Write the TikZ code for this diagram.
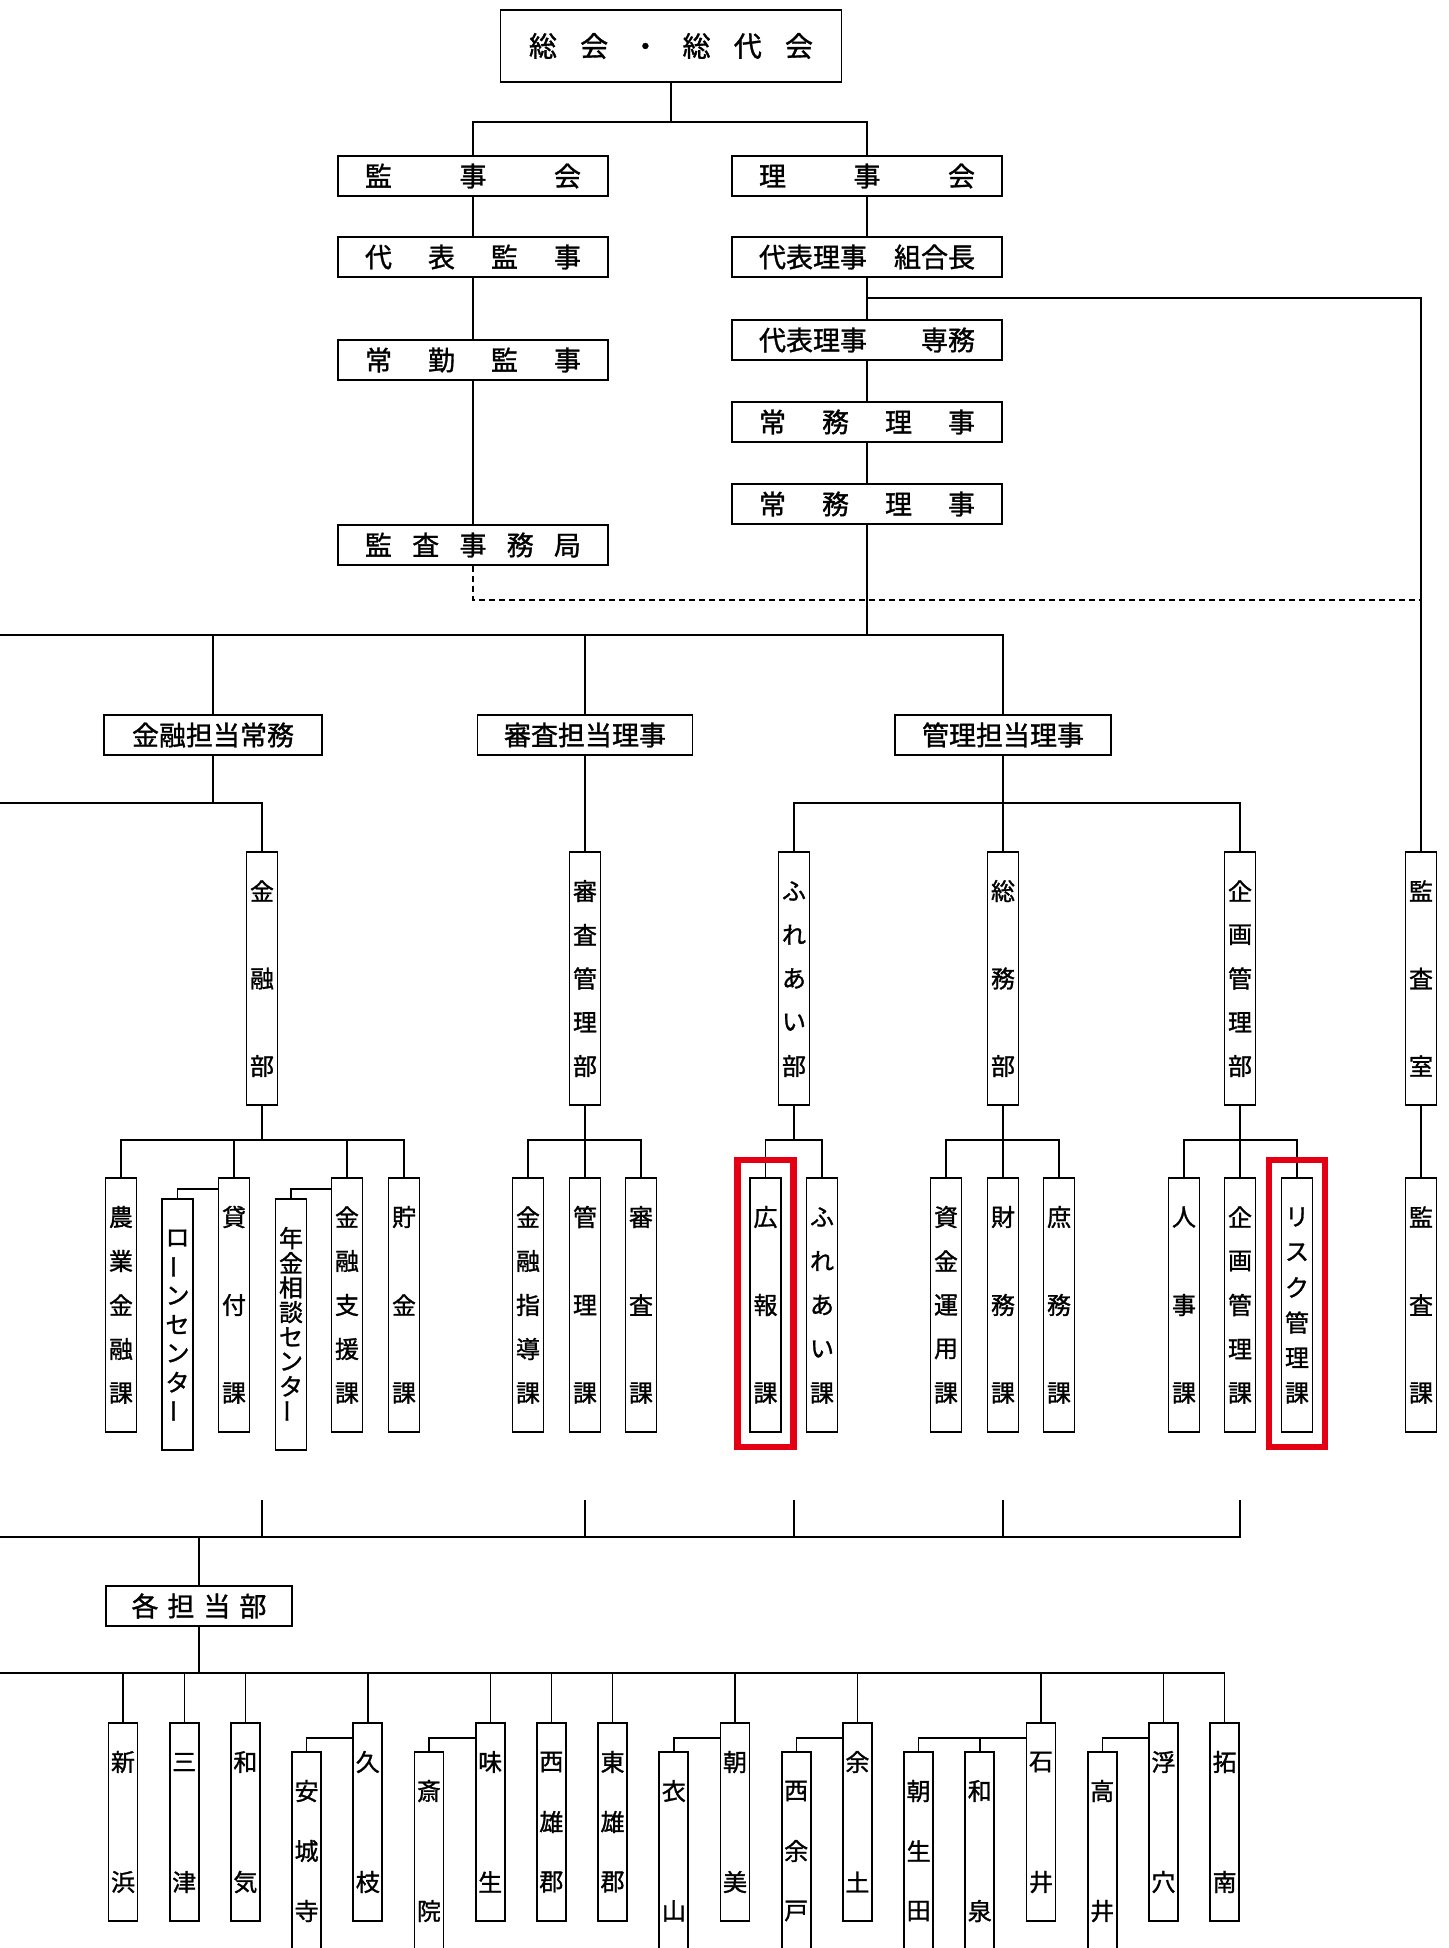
\documentclass[tikz,border=0pt]{standalone}
\usepackage{fontspec}
\usepackage{graphicx}
\setmainfont{Noto Sans CJK JP}[FakeBold=1.2]
\definecolor{hred}{RGB}{228,0,18}
\tikzset{
  box/.style={draw, line width=1.7pt, inner sep=0pt, fill=white},
  conn/.style={line width=1.4pt},
  dconn/.style={line width=1.4pt, dash pattern=on 6pt off 4pt},
  hlab/.style={font=\fontsize{27}{27}\selectfont},
  vch/.style={inner sep=0pt, font=\fontsize{24}{24}\selectfont},
  redbox/.style={draw=hred, line width=6.5pt, inner sep=0pt},
}
\newcommand\hb[6]{%
  \node[box, hlab, minimum width=#4, minimum height=#5] (#1) at (#2,#3) {#6};}
\newcommand\vcol[7]{%
  \node[box, minimum width=#5, minimum height={#4-#3}] (#1) at (#2,{(#3+#4)/2}) {};
  \foreach \c [count=\i] in {#7} {
    \node[vch] (#1-\i) at (#2,{#3+39+(\i-1)*(#4-#3-78)/(#6-1)}) {\c};}}
\newcommand\vbar{\rotatebox[origin=c]{90}{ー}}
\begin{document}
\begin{tikzpicture}[x=1pt,y=-1pt]
\useasboundingbox (0,0) rectangle (1448,1948);
\fill[white] (0,0) rectangle (1448,1948);
\clip (0,0) rectangle (1448,1948);

% ---------- top ----------
\hb{soukai}{671}{46}{341}{72}{\fontsize{28}{28}\selectfont\hbox to 284pt{総\hfill 会\hfill ・\hfill 総\hfill 代\hfill 会}}
\hb{kanjikai}{473}{176}{270}{40}{\hbox to 216pt{監\hfill 事\hfill 会}}
\hb{rijikai}{867}{176}{270}{40}{\hbox to 216pt{理\hfill 事\hfill 会}}
\hb{daihyokanji}{473}{257}{270}{40}{\hbox to 216pt{代\hfill 表\hfill 監\hfill 事}}
\hb{kumiaicho}{867}{257}{270}{40}{代表理事　組合長}
\hb{senmu}{867}{340}{270}{40}{\hbox to 216pt{代表理事\hfill 専務}}
\hb{joukin}{473}{360}{270}{40}{\hbox to 216pt{常\hfill 勤\hfill 監\hfill 事}}
\hb{jomuA}{867}{422}{270}{40}{\hbox to 216pt{常\hfill 務\hfill 理\hfill 事}}
\hb{jomuB}{867}{504}{270}{40}{\hbox to 216pt{常\hfill 務\hfill 理\hfill 事}}
\hb{kansajimu}{473}{545}{270}{40}{\hbox to 216pt{監\hfill 査\hfill 事\hfill 務\hfill 局}}

\coordinate (b1) at (671,122);
\draw[conn] (soukai.south) -- (b1);
\draw[conn] (kanjikai.north) |- (b1) -| (rijikai.north);
\draw[conn] (kanjikai.south) -- (daihyokanji.north);
\draw[conn] (daihyokanji.south) -- (joukin.north);
\draw[conn] (joukin.south) -- (kansajimu.north);
\draw[conn] (rijikai.south) -- (kumiaicho.north);
\draw[conn] (kumiaicho.south) -- (senmu.north);
\draw[conn] (senmu.south) -- (jomuA.north);
\draw[conn] (jomuA.south) -- (jomuB.north);

% ---------- tanto level ----------
\hb{kinyutanto}{213}{735}{218}{40}{金融担当常務}
\hb{shinsatanto}{585}{735}{215}{40}{審査担当理事}
\hb{kanritanto}{1003}{735}{216}{40}{管理担当理事}

\coordinate (mL) at (0,635);
\coordinate (mR) at (1003,635);
\draw[conn] (jomuB.south) -- (jomuB.south |- mL);
\draw[conn] (mL) -- (mR) -- (kanritanto.north);
\draw[conn] (kinyutanto.north) -- (kinyutanto.north |- mL);
\draw[conn] (shinsatanto.north) -- (shinsatanto.north |- mL);

% ---------- departments ----------
\vcol{kinyubu}{262}{852}{1105}{31}{3}{金,融,部}
\vcol{shinsabu}{585}{852}{1105}{31}{5}{審,査,管,理,部}
\vcol{fureaibu}{794}{852}{1105}{31}{5}{ふ,れ,あ,い,部}
\vcol{sohmubu}{1003}{852}{1105}{31}{3}{総,務,部}
\vcol{kikakubu}{1240}{852}{1105}{31}{5}{企,画,管,理,部}
\vcol{kansashitsu}{1421}{852}{1105}{31}{3}{監,査,室}

\coordinate (r1) at (867,298);
\draw[conn] (r1) -| (kansashitsu.north);
\coordinate (dq) at (1421,600);
\draw[dconn] (kansajimu.south) |- (dq);

\coordinate (kL) at (0,803);
\coordinate (kR) at (1003,803);
\draw[conn] (kinyutanto.south) -- (kinyutanto.south |- kL);
\draw[conn] (kL) -| (kinyubu.north);
\draw[conn] (shinsatanto.south) -- (shinsabu.north);
\draw[conn] (kanritanto.south) -- (sohmubu.north);
\draw[conn] (fureaibu.north) |- (kR) -| (kikakubu.north);

% ---------- sections ----------
\vcol{nogyo}{121}{1178}{1432}{31}{5}{農,業,金,融,課}
\vcol{loan}{177.5}{1199}{1450}{31}{7}{ロ,\vbar,ン,セ,ン,タ,\vbar}
\vcol{kashitsuke}{234}{1178}{1432}{31}{3}{貸,付,課}
\vcol{nenkin}{291}{1199}{1450}{31}{8}{年,金,相,談,セ,ン,タ,\vbar}
\vcol{kinyushien}{347}{1178}{1432}{31}{5}{金,融,支,援,課}
\vcol{chokin}{404}{1178}{1432}{31}{3}{貯,金,課}
\vcol{shido}{528}{1178}{1432}{31}{5}{金,融,指,導,課}
\vcol{kanrika}{585}{1178}{1432}{31}{3}{管,理,課}
\vcol{shinsaka}{641}{1178}{1432}{31}{3}{審,査,課}
\vcol{koho}{765.5}{1178}{1432}{31}{3}{広,報,課}
\vcol{fureaika}{822}{1178}{1432}{31}{5}{ふ,れ,あ,い,課}
\vcol{shikin}{946}{1178}{1432}{31}{5}{資,金,運,用,課}
\vcol{zaimu}{1003}{1178}{1432}{31}{3}{財,務,課}
\vcol{shomu}{1059}{1178}{1432}{31}{3}{庶,務,課}
\vcol{jinji}{1184}{1178}{1432}{31}{3}{人,事,課}
\vcol{kikakuka}{1240}{1178}{1432}{31}{5}{企,画,管,理,課}
\vcol{risk}{1297}{1178}{1432}{31}{6}{リ,ス,ク,管,理,課}
\vcol{kansaka}{1421}{1178}{1432}{31}{3}{監,査,課}

\coordinate (yb) at (0,1140);
\coordinate (ys) at (0,1189);
% kinyubu
\draw[conn] (kinyubu.south) -- (kinyubu.south |- yb);
\draw[conn] (nogyo.north) |- (chokin.north |- yb) -- (chokin.north);
\draw[conn] (kashitsuke.north) -- (kashitsuke.north |- yb);
\draw[conn] (kinyushien.north) -- (kinyushien.north |- yb);
\draw[conn] (kashitsuke.west |- ys) -| (loan.north);
\draw[conn] (kinyushien.west |- ys) -| (nenkin.north);
% shinsabu
\draw[conn] (shinsabu.south) -- (kanrika.north);
\draw[conn] (shido.north) |- (shinsaka.north |- yb) -- (shinsaka.north);
% fureaibu
\draw[conn] (fureaibu.south) -- (fureaibu.south |- yb);
\draw[conn] (koho.north) |- (fureaika.north |- yb) -- (fureaika.north);
% sohmubu
\draw[conn] (sohmubu.south) -- (zaimu.north);
\draw[conn] (shikin.north) |- (shomu.north |- yb) -- (shomu.north);
% kikakubu
\draw[conn] (kikakubu.south) -- (kikakuka.north);
\draw[conn] (jinji.north) |- (risk.north |- yb) -- (risk.north);
% kansa
\draw[conn] (kansashitsu.south) -- (kansaka.north);

% red highlight frames
\node[redbox, minimum width=56, minimum height=287] (redA) at (765.5,1303.5) {};
\node[redbox, minimum width=56, minimum height=287] (redB) at (1297,1303.5) {};

% ---------- bottom ----------
\coordinate (tA) at (262,1500);
\coordinate (tB) at (585,1500);
\coordinate (tC) at (794,1500);
\coordinate (tD) at (1003,1500);
\coordinate (tE) at (1240,1500);
\coordinate (bL) at (0,1537);
\coordinate (bR) at (1240,1537);
\draw[conn] (bL) -- (bR) -- (tE);
\draw[conn] (tA) -- (tA |- bL);
\draw[conn] (tB) -- (tB |- bL);
\draw[conn] (tC) -- (tC |- bL);
\draw[conn] (tD) -- (tD |- bL);

\hb{kaku}{199}{1606}{186}{40}{\hbox to 135pt{各\hfill 担\hfill 当\hfill 部}}
\draw[conn] (kaku.north) -- (kaku.north |- bL);

% branches
\vcol{shinhama}{123}{1723}{1921}{29}{2}{新,浜}
\vcol{mitsu}{184.2}{1723}{1921}{29}{2}{三,津}
\vcol{wake}{245.4}{1723}{1921}{29}{2}{和,気}
\vcol{anjoji}{306.6}{1752}{1950}{29}{3}{安,城,寺}
\vcol{hisaeda}{367.8}{1723}{1921}{29}{2}{久,枝}
\vcol{saiin}{429}{1752}{1950}{29}{2}{斎,院}
\vcol{ajifu}{490.2}{1723}{1921}{29}{2}{味,生}
\vcol{nishigun}{551.4}{1723}{1921}{29}{3}{西,雄,郡}
\vcol{higashigun}{612.6}{1723}{1921}{29}{3}{東,雄,郡}
\vcol{kinuyama}{673.8}{1752}{1950}{29}{2}{衣,山}
\vcol{asami}{735}{1723}{1921}{29}{2}{朝,美}
\vcol{nishiyoto}{796.2}{1752}{1950}{29}{3}{西,余,戸}
\vcol{yodo}{857.4}{1723}{1921}{29}{2}{余,土}
\vcol{asoda}{918.6}{1752}{1950}{29}{3}{朝,生,田}
\vcol{izumi}{979.8}{1752}{1950}{29}{2}{和,泉}
\vcol{ishii}{1041}{1723}{1921}{29}{2}{石,井}
\vcol{takai}{1102.2}{1752}{1950}{29}{2}{高,井}
\vcol{ukena}{1163.4}{1723}{1921}{29}{2}{浮,穴}
\vcol{takunan}{1224.6}{1723}{1921}{29}{2}{拓,南}

\coordinate (sL) at (0,1673);
\coordinate (ly) at (0,1738);
\draw[conn] (kaku.south) -- (kaku.south |- sL);
\draw[conn] (sL) -| (takunan.north);
\foreach \n in {shinhama,mitsu,wake,hisaeda,ajifu,nishigun,higashigun,asami,yodo,ishii,ukena}
  \draw[conn] (\n.north) -- (\n.north |- sL);
\draw[conn] (hisaeda.west |- ly) -| (anjoji.north);
\draw[conn] (ajifu.west |- ly) -| (saiin.north);
\draw[conn] (asami.west |- ly) -| (kinuyama.north);
\draw[conn] (yodo.west |- ly) -| (nishiyoto.north);
\draw[conn] (ishii.west |- ly) -| (asoda.north);
\draw[conn] (izumi.north) -- (izumi.north |- ly);
\draw[conn] (ukena.west |- ly) -| (takai.north);
\end{tikzpicture}
\end{document}
